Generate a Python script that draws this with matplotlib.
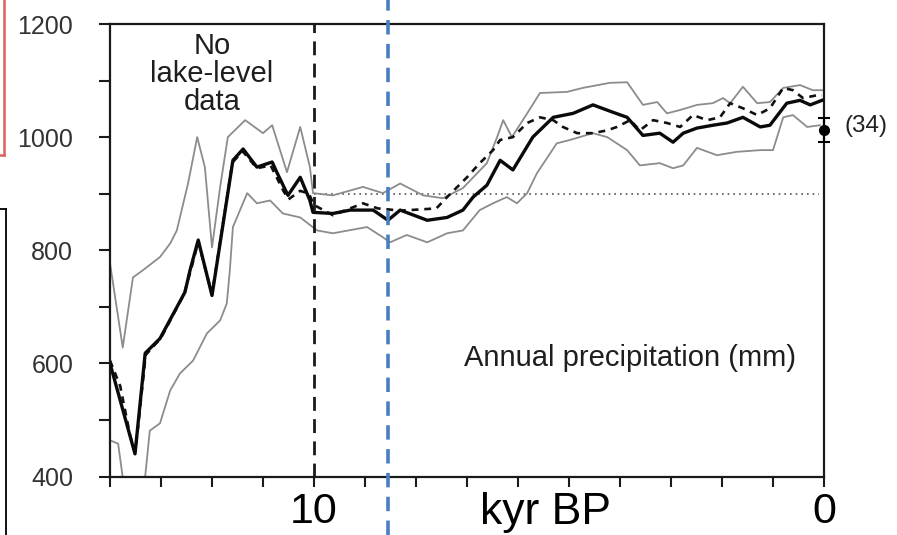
import matplotlib
matplotlib.use("Agg")
import matplotlib.pyplot as plt
from matplotlib.lines import Line2D
import numpy as np

plt.rcParams['font.family'] = ['Liberation Sans', 'DejaVu Sans']

# ---- data (kyr BP, annual precipitation mm) ----
main_kyr = [14.0, 13.51, 13.31, 13.02, 12.53, 12.43, 12.27, 12.0, 11.59, 11.39, 11.12, 10.82,
            10.73, 10.51, 10.27, 10.08, 10.02, 9.63, 9.29, 8.84, 8.55, 8.31, 7.78, 7.39, 7.08,
            6.88, 6.61, 6.35, 6.10, 5.71, 5.31, 4.92, 4.53, 4.14, 3.86, 3.55, 3.22, 2.96, 2.76,
            2.49, 2.18, 1.90, 1.59, 1.25, 1.06, 0.73, 0.47, 0.27, 0.04]
main_mm = [600, 440, 618, 644, 726, 765, 818, 720, 959, 979, 947, 956,
           938, 897, 929, 888, 867, 865, 871, 871, 853, 871, 853, 858, 871,
           894, 915, 959, 942, 1000, 1035, 1042, 1057, 1044, 1035, 1003, 1007, 991, 1007,
           1016, 1021, 1025, 1035, 1018, 1021, 1060, 1065, 1057, 1065]

alt_kyr = [14.0, 13.8, 13.6, 13.5, 13.3, 13.0, 12.55, 12.4, 12.27, 12.0, 11.6, 11.4, 11.12,
           10.85, 10.6, 10.5, 10.27, 10.1, 10.0, 9.63, 9.04, 8.75, 8.3, 7.6, 7.39, 7.0, 6.75,
           6.49, 6.35, 6.10, 5.82, 5.57, 5.31, 5.12, 4.84, 4.53, 4.25, 4.06, 3.80, 3.61, 3.35,
           3.08, 2.82, 2.57, 2.29, 2.04, 1.84, 1.59, 1.31, 1.06, 0.80, 0.61, 0.41, 0.14, 0.04]
alt_mm = [605, 560, 470, 445, 615, 645, 722, 770, 815, 722, 955, 975, 945,
          950, 905, 890, 905, 900, 880, 862, 883, 874, 870, 874, 894, 929, 954,
          977, 995, 1000, 1025, 1035, 1030, 1018, 1007, 1007, 1012, 1018, 1030, 1012, 1030,
          1025, 1018, 1039, 1030, 1035, 1060, 1051, 1039, 1051, 1087, 1083, 1069, 1074, 1074]

upper_kyr = [14.0, 13.75, 13.55, 13.35, 13.02, 12.82, 12.69, 12.47, 12.29, 12.14, 12.0, 11.84,
             11.69, 11.35, 11.0, 10.82, 10.53, 10.27, 10.08, 10.02, 9.63, 9.04, 8.65, 8.31,
             7.86, 7.47, 7.08, 6.61, 6.41, 6.29, 6.12, 5.82, 5.57, 5.04, 4.73, 4.20, 3.86,
             3.55, 3.27, 3.08, 2.82, 2.49, 2.18, 1.98, 1.84, 1.59, 1.31, 1.06, 0.80, 0.47,
             0.22, 0.04]
upper_mm = [777, 628, 752, 765, 788, 812, 835, 918, 1000, 947, 805, 912,
            1000, 1030, 1007, 1021, 938, 1018, 947, 901, 897, 912, 901, 918,
            897, 892, 910, 954, 1000, 1030, 1000, 1042, 1078, 1080, 1087, 1096, 1097,
            1057, 1062, 1042, 1048, 1057, 1060, 1069, 1060, 1089, 1060, 1062, 1087, 1092,
            1083, 1083]

lower_kyr = [14.0, 13.84, 13.75, 13.65, 13.45, 13.31, 13.22, 13.02, 12.82, 12.63, 12.37, 12.10,
             11.84, 11.71, 11.65, 11.59, 11.31, 11.12, 10.86, 10.61, 10.27, 9.94, 9.63, 8.96,
             8.65, 8.51, 8.18, 7.78, 7.39, 7.08, 6.75, 6.49, 6.22, 6.02, 5.82, 5.63, 5.24,
             4.98, 4.53, 4.25, 3.86, 3.61, 3.22, 2.96, 2.76, 2.49, 2.10, 1.71, 1.25, 1.00,
             0.80, 0.61, 0.33, 0.08]
lower_mm = [464, 458, 398, 360, 360, 400, 481, 494, 552, 582, 605, 653,
            676, 706, 765, 841, 901, 883, 888, 865, 858, 835, 830, 841,
            823, 814, 827, 814, 830, 835, 871, 883, 894, 883, 901, 936, 989,
            995, 1007, 1000, 977, 950, 954, 945, 950, 981, 968, 974, 977, 977,
            1035, 1039, 1018, 1021]

modern_kyr = [0.0]
modern_mm = [1012]
modern_err = [21]

ref_level = 900
lake_limit_kyr = 10
marker_kyr = 8.55

yticks = [400, 600, 800, 1000, 1200]
xtick_labels = {10: "10", 0: "0"}

# ---- figure ----
W, H = 897, 535
fig = plt.figure(figsize=(W / 100, H / 100), dpi=100)
L, R, T, B = 110, 824, 24, 476.5
ax = fig.add_axes([L / W, 1 - B / H, (R - L) / W, (B - T) / H])

ax.set_xlim(14, 0)
ax.set_ylim(400, 1200)

gray = '#8c8c8c'
ax.plot(upper_kyr, upper_mm, color=gray, lw=1.3, zorder=2, solid_joinstyle='round')
ax.plot(lower_kyr, lower_mm, color=gray, lw=1.3, zorder=2, solid_joinstyle='round')
ax.plot(alt_kyr, alt_mm, color='#111111', lw=1.9, ls=(0, (2.6, 2.2)), zorder=3)
ax.plot(main_kyr, main_mm, color='#0a0a0a', lw=2.4, zorder=4, solid_joinstyle='round')

# reference level (dotted)
ax.plot([lake_limit_kyr, 0.1], [ref_level, ref_level], color='#555555', lw=1.2,
        ls=(0, (1, 2.4)), zorder=1)

# modern value with error bar
ax.errorbar(modern_kyr, modern_mm, yerr=modern_err, fmt='o', color='black', ms=7,
            capsize=4, elinewidth=1.5, capthick=1.5, clip_on=False, zorder=6)
ax.annotate("(34)", xy=(0, modern_mm[0]), xytext=(15, 3), textcoords='offset points',
            fontsize=17.5, color='#222222', va='center', ha='left', annotation_clip=False)

# black dashed line at 10 kyr
ax.axvline(lake_limit_kyr, color='#1a1a1a', lw=2.0, ls=(0, (5, 3)), zorder=3)

# blue dashed marker line extending beyond the axes
ax.axvline(marker_kyr, ymin=(B - H) / (B - T), ymax=B / (B - T), color='#4a7ec2', lw=2.6,
           ls=(0, (4, 2.6)), clip_on=False, zorder=7)

# texts
ax.text(12.0, 1185, "No\nlake-level\ndata", ha='center', va='top', fontsize=21,
        color='#1e1e1e', linespacing=0.98)
ax.text(3.8, 609, "Annual precipitation (mm)", ha='center', va='center', fontsize=21,
        color='#1e1e1e')

# spines
for s in ax.spines.values():
    s.set_linewidth(1.6)
    s.set_color('#1a1a1a')

# y ticks
ax.set_yticks(yticks)
ax.set_yticklabels([str(v) for v in yticks])
ax.set_yticks(np.arange(500, 1200, 200), minor=True)
ax.tick_params(axis='y', which='both', direction='out', length=8, width=1.5, color='#1a1a1a',
               labelsize=18, labelcolor='#333333', pad=18.5)

# x ticks
ax.set_xticks(np.arange(0, 15, 1))
ax.set_xticklabels([xtick_labels.get(int(v), "") for v in np.arange(0, 15, 1)])
ax.tick_params(axis='x', which='both', direction='out', length=7, width=1.5, color='#1a1a1a',
               labelsize=31, labelcolor='black', pad=4)

ax.text(5.47, -0.105, "kyr BP", transform=ax.get_xaxis_transform(), ha='center',
        va='baseline', fontsize=32, color='black')

# overlay frame fragments at the left edge
fig.add_artist(Line2D([4 / W, 4 / W], [1, 1 - 155 / H], color='#d9625e', lw=1.8))
fig.add_artist(Line2D([0, 4 / W], [1 - 155 / H, 1 - 155 / H], color='#d9625e', lw=1.8))
fig.add_artist(Line2D([6 / W, 6 / W], [1 - 209 / H, 0], color='black', lw=1.3))
fig.add_artist(Line2D([0, 6 / W], [1 - 209 / H, 1 - 209 / H], color='black', lw=1.3))

fig.savefig("out.png", dpi=100)
